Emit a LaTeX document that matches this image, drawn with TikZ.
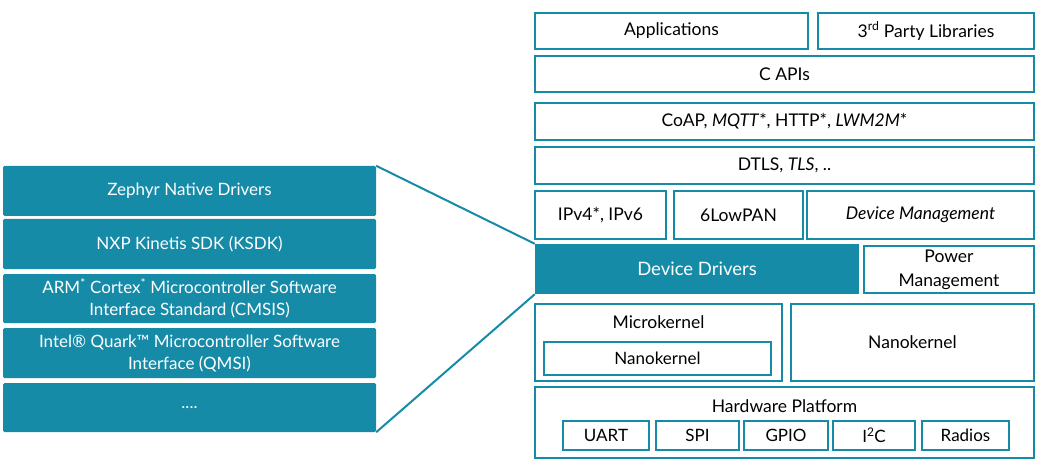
\documentclass[tikz,border=0pt]{standalone}
\usepackage{fontspec}
\setmainfont{Lato}
\definecolor{zteal}{RGB}{22,139,168}
\tikzset{
  layer/.style={draw=zteal, line width=2pt, fill=white, inner sep=0pt,
    font=\fontsize{17.5}{24}\selectfont, align=center},
  hwbox/.style={layer, font=\fontsize{17}{20}\selectfont},
  drvbox/.style={fill=zteal, rounded corners=1.5pt, inner sep=0pt, text=white,
    font=\fontsize{17}{22}\selectfont, align=center,
    minimum width=373pt, minimum height=50pt},
  zoomline/.style={draw=zteal, line width=2pt}
}
\begin{document}
\begin{tikzpicture}[x=1pt, y=-1pt]
    \useasboundingbox (0,0) rectangle (1040,462);

    % 1. Upper layers
    \node[layer, minimum width=273pt, minimum height=36pt] (app) at (671.5,31) {Applications};
    \node[layer, minimum width=216pt, minimum height=36pt] (third) at (926,31) {3\textsuperscript{rd} Party Libraries};
    \node[layer, minimum width=499pt, minimum height=36pt] (capi) at (784.5,74) {C APIs};
    \node[layer, minimum width=499pt, minimum height=37pt] (coap) at (784.5,121.5)
        {CoAP, \textit{MQTT}*, HTTP*, \textit{LWM2M}*};
    \node[layer, minimum width=499pt, minimum height=37pt] (dtls) at (784.5,165.5) {DTLS, \textit{TLS}, ..};

    % 2. Network row
    \node[layer, minimum width=131pt, minimum height=48pt] (ip) at (600.5,215) {IPv4*, IPv6};
    \node[layer, minimum width=129pt, minimum height=48pt] (lowpan) at (738.5,215) {6LowPAN};
    \node[layer, minimum width=227pt, minimum height=48pt] (devmgmt) at (920.5,215) {\textit{Device Management}};

    % 3. Drivers and power
    \node[fill=zteal, text=white, inner sep=0pt, font=\fontsize{18.5}{22}\selectfont,
        minimum width=324pt, minimum height=50pt] (drivers) at (697,269) {Device Drivers};
    \node[layer, minimum width=170pt, minimum height=47pt] (power) at (949,269.5) {Power\\Management};

    % 4. Kernels
    \node[layer, minimum width=247pt, minimum height=77pt] (micro) at (658.5,342.5) {};
    \node[font=\fontsize{17.5}{20}\selectfont] (microlabel) at (658.5,322) {Microkernel};
    \node[hwbox, minimum width=227pt, minimum height=33pt] (nanoin) at (657.5,358.5) {Nanokernel};
    \node[layer, minimum width=243pt, minimum height=77pt] (nano) at (912.5,342.5) {Nanokernel};

    % 5. Hardware platform
    \node[layer, minimum width=499pt, minimum height=71pt] (hw) at (784.5,422.5) {};
    \node[font=\fontsize{17.5}{20}\selectfont] (hwlabel) at (784.5,406) {Hardware Platform};
    \node[hwbox, minimum width=86pt, minimum height=29pt] (uart) at (606,435.5) {UART};
    \node[hwbox, minimum width=83pt, minimum height=29pt] (spi) at (697.5,435.5) {SPI};
    \node[hwbox, minimum width=84pt, minimum height=29pt] (gpio) at (786,435.5) {GPIO};
    \node[hwbox, minimum width=82pt, minimum height=29pt] (itwoc) at (874,435.5) {I\textsuperscript{2}C};
    \node[hwbox, minimum width=87pt, minimum height=29pt] (radios) at (965.5,435.5) {Radios};

    % 6. Driver stack on the left
    \node[drvbox] (zephyr) at (189.5,191) {Zephyr Native Drivers};
    \node[drvbox] (ksdk) at (189.5,244) {NXP Kinetis SDK (KSDK)};
    \node[drvbox, minimum height=49pt] (cmsis) at (189.5,298.5)
        {ARM\textsuperscript{*} Cortex\textsuperscript{*} Microcontroller Software\\Interface Standard (CMSIS)};
    \node[drvbox] (qmsi) at (189.5,353)
        {Intel® Quark™ Microcontroller Software\\Interface (QMSI)};
    \node[drvbox, minimum height=49pt] (more) at (189.5,407.5) {....};

    % 7. Zoom lines
    \draw[zoomline] (zephyr.north east) -- (drivers.north west);
    \draw[zoomline] (more.south east) -- (drivers.south west);
\end{tikzpicture}
\end{document}
